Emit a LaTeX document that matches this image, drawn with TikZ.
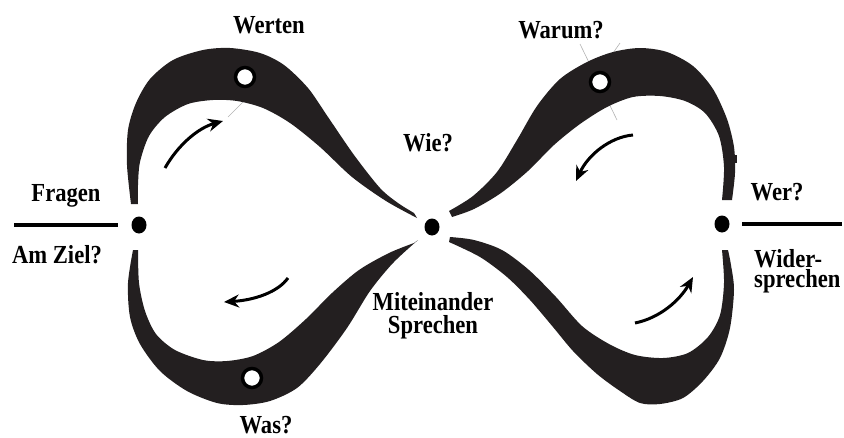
\documentclass[tikz,border=0pt]{standalone}
\usepackage{fontspec}
\setmainfont{Liberation Serif}[FakeStretch=0.87]
\usetikzlibrary{arrows.meta,shapes.geometric}
\definecolor{lobe}{RGB}{35,31,32}
\begin{document}
\begin{tikzpicture}[x=1pt,y=-1pt,
  lbl/.style={font=\fontsize{26}{23}\selectfont\bfseries, inner sep=0pt, anchor=base},
  dot/.style={ellipse, fill=black, minimum width=15pt, minimum height=17pt, inner sep=0pt},
  ring/.style={circle, draw=black, fill=white, line width=3.5pt, minimum size=19pt, inner sep=0pt},
  flow/.style={line width=3pt, -{Stealth[length=15pt,width=13pt]}},
  bar/.style={line width=4pt},
  ghost/.style={black!30, line width=0.6pt}]
\useasboundingbox (0,0) rectangle (844,437);

% faint guide lines
\draw[ghost] (228,117) -- (252,93);
\draw[ghost] (580,44) -- (617,120);
\draw[ghost] (620,43) -- (604,66);

% upper-left lobe
\fill[lobe] plot[smooth] coordinates {(131,204) (127,165) (128,130) (136,103) (150,79) (173,60) (203,50) (230,48) (260,53) (284,65) (308,88) (328,117) (354,155) (380,188) (398,203) (414,213)}
  -- plot[smooth] coordinates {(417,218) (386,201) (352,177) (320,147) (290,123) (263,108) (237,101) (213,100) (188,104) (165,117) (149,136) (140,162) (138,185) (138,204)} -- cycle;
% upper-right lobe
\fill[lobe] plot[smooth] coordinates {(449,211) (473,196) (497,172) (517,140) (537,106) (560,79) (587,62) (613,52) (640,48) (667,52) (693,66) (713,89) (727,119) (734,147) (735,173) (732,200)}
  -- plot[smooth] coordinates {(722,200) (724,167) (719,136) (705,113) (685,101) (660,96) (633,97) (607,107) (580,124) (554,145) (528,171) (501,193) (474,209) (452,217)} -- cycle;
\fill[lobe] (731,155) rectangle (737,163);
% lower-left lobe
\fill[lobe] plot[smooth] coordinates {(133,250) (128,283) (130,317) (140,344) (160,371) (187,391) (217,403) (243,405) (270,401) (297,388) (320,364) (347,328) (370,291) (393,263) (418,240)}
  -- plot[smooth] coordinates {(414,243) (389,253) (359,270) (332,293) (306,319) (279,342) (253,356) (227,361) (203,360) (175,350) (156,334) (145,311) (139,283) (138,250)} -- cycle;
% lower-right lobe
\fill[lobe] plot[smooth] coordinates {(449,242) (480,257) (507,277) (530,300) (553,327) (573,351) (597,374) (620,391) (640,403) (660,404) (683,398) (703,381) (720,358) (730,328) (734,290) (731,265) (728,250)}
  -- plot[smooth] coordinates {(722,250) (724,283) (720,315) (708,337) (688,353) (663,358) (635,355) (609,344) (582,326) (556,297) (529,270) (502,250) (474,240) (450,237)} -- cycle;

% rings
\node[ring] (r1) at (245,77) {};
\node[ring] (r2) at (600,82) {};
\node[ring] (r3) at (252,378) {};

% dots
\node[dot] (L) at (139,225) {};
\node[dot] (C) at (432,227) {};
\node[dot] (R) at (722,224) {};

% bars
\coordinate (lb1) at (14,225);
\coordinate (lb2) at (118,225);
\coordinate (rb1) at (742,224);
\coordinate (rb2) at (842,224);
\draw[bar] (lb1) -- (lb2);
\draw[bar] (rb1) -- (rb2);

% arrows
\coordinate (a1s) at (165,168); \coordinate (a1e) at (223,121);
\coordinate (a2s) at (633,135); \coordinate (a2e) at (576,181);
\coordinate (a3s) at (288,278); \coordinate (a3e) at (224,302);
\coordinate (a4s) at (635,323); \coordinate (a4e) at (693,277);
\draw[flow] (a1s) .. controls (178,145) and (198,128) .. (a1e);
\draw[flow] (a2s) .. controls (610,137) and (588,155) .. (a2e);
\draw[flow] (a3s) .. controls (278,292) and (255,300) .. (a3e);
\draw[flow] (a4s) .. controls (660,318) and (680,300) .. (a4e);

% labels
\node[lbl] (tW) at (269,33) {Werten};
\node[lbl] (tWa) at (561,38) {Warum?};
\node[lbl] (tWie) at (428,151) {Wie?};
\node[lbl] (tWas) at (266,433) {Was?};
\node[lbl] (tF) at (66,201) {Fragen};
\node[lbl] (tA) at (57,263) {Am Ziel?};
\node[lbl] (tWer) at (777,200) {Wer?};
\node[lbl, align=center] (tM) at (433,333) {Miteinander\\Sprechen};
\node[lbl, anchor=base west, align=left, font=\fontsize{26}{20}\selectfont\bfseries] (tWi) at (754,287) {Wider-\\sprechen};
\end{tikzpicture}
\end{document}
